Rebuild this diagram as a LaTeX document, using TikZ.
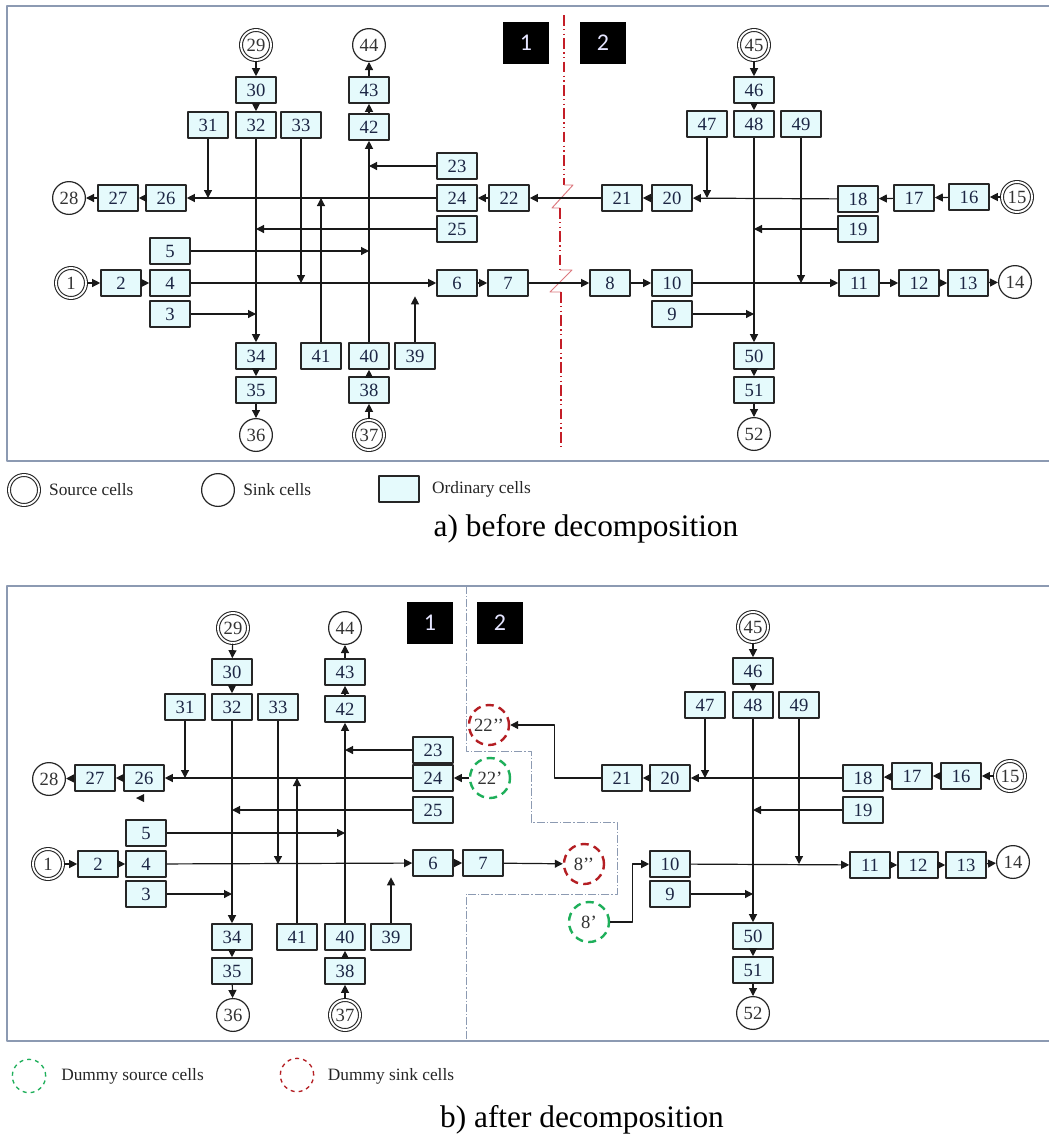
\documentclass[tikz,border=0pt]{standalone}
\usepackage{fontspec}
\setmainfont{Liberation Serif}
\newfontfamily\tagfont{Carlito}
\usetikzlibrary{arrows.meta}
\usetikzlibrary{positioning}
\definecolor{cellfill}{RGB}{229,250,252}
\definecolor{cellink}{RGB}{28,38,68}
\definecolor{framegray}{RGB}{140,154,178}
\definecolor{cutred}{RGB}{196,30,40}
\definecolor{dsrcgreen}{RGB}{30,175,90}
\definecolor{dsinkred}{RGB}{180,30,35}

\begin{document}
\begin{tikzpicture}[x=0.75pt, y=-0.75pt, line join=round,
    cell/.style = {draw=black!85, line width=1.2pt, fill=cellfill, minimum width=30pt, minimum height=19.5pt, inner sep=0pt, text=cellink, font=\fontsize{14}{16}\selectfont},
    sink/.style = {circle, draw=black!85, line width=0.9pt, minimum size=24.6pt, inner sep=0pt, text=black!80, font=\fontsize{14}{16}\selectfont},
    src/.style = {sink, double, double distance=1.4pt, line width=0.8pt, minimum size=22.5pt},
    dsrc/.style = {circle, draw=dsrcgreen, line width=1.8pt, dash pattern=on 6pt off 4pt, minimum size=30pt, inner sep=0pt, text=black!80, font=\fontsize{14}{16}\selectfont},
    dsink/.style = {dsrc, draw=dsinkred},
    tag/.style = {fill=black, text=white!90!blue, minimum width=34.5pt, minimum height=31.5pt, inner sep=0pt, font=\tagfont\fontsize{18}{20}\selectfont},
    arr/.style = {-{Triangle[length=6pt,width=6pt]}, line width=0.9pt, black!90},
    legend/.style = {font=\fontsize{13}{15}\selectfont, text=black!85, inner sep=0pt},
    caption/.style = {font=\fontsize{23.5}{26}\selectfont, anchor=base}]
\useasboundingbox (0,0) rectangle (1049,1136);
\fill[white] (0,0) rectangle (1049,1136);

% a) before decomposition
\draw[framegray, line width=1.1pt] (1050,6) -- (7,6) -- (7,461) -- (1050,461);
\node[tag] (a1tag) at (526,43) {1};
\node[tag] (a2tag) at (603,43) {2};
\draw[cutred, line width=0.9pt, dash pattern=on 8pt off 2.5pt on 1pt off 2.5pt on 1pt off 2.5pt] (564,15) -- (564,185);
\draw[cutred!60, line width=0.7pt] (564,185) -- (573,185) -- (552,208) -- (560,208);
\draw[cutred, line width=0.9pt, dash pattern=on 8pt off 2.5pt on 1pt off 2.5pt on 1pt off 2.5pt] (560,208) -- (560,270);
\draw[cutred!60, line width=0.7pt] (560,270) -- (572,270) -- (550,292) -- (561,292);
\draw[cutred, line width=0.9pt, dash pattern=on 8pt off 2.5pt on 1pt off 2.5pt on 1pt off 2.5pt] (561,292) -- (561,450);

\node[src] (a29) at (256,45) {29};
\node[sink] (a44) at (369,45) {44};
\node[src] (a45) at (754,45) {45};
\node[cell] (a30) at (256,90) {30};
\node[cell] (a43) at (369,90) {43};
\node[cell] (a46) at (754,90) {46};
\node[cell] (a31) at (208,125) {31};
\node[cell] (a32) at (256,125) {32};
\node[cell] (a33) at (301,125) {33};
\node[cell] (a42) at (369,127) {42};
\node[cell] (a47) at (707,124) {47};
\node[cell] (a48) at (754,124) {48};
\node[cell] (a49) at (801,124) {49};
\node[cell] (a23) at (457,166) {23};
\node[sink] (a28) at (69,198) {28};
\node[cell] (a27) at (118,198) {27};
\node[cell] (a26) at (166,198) {26};
\node[cell] (a24) at (457,198) {24};
\node[cell] (a22) at (509,198) {22};
\node[cell] (a21) at (622,198) {21};
\node[cell] (a20) at (672,198) {20};
\node[cell] (a18) at (858,199) {18};
\node[cell] (a17) at (914,198) {17};
\node[cell] (a16) at (969,197) {16};
\node[src] (a15) at (1017,197) {15};
\node[cell] (a25) at (457,229) {25};
\node[cell] (a19) at (858,229) {19};
\node[cell] (a5) at (170,251) {5};
\node[src] (a1) at (71,283) {1};
\node[cell] (a2) at (121,283) {2};
\node[cell] (a4) at (170,283) {4};
\node[cell] (a6) at (457,283) {6};
\node[cell] (a7) at (508,283) {7};
\node[cell] (a8) at (610,283) {8};
\node[cell] (a10) at (672,283) {10};
\node[cell] (a11) at (859,283) {11};
\node[cell] (a12) at (919,283) {12};
\node[cell] (a13) at (968,283) {13};
\node[sink] (a14) at (1015,282) {14};
\node[cell] (a3) at (170,314) {3};
\node[cell] (a9) at (672,314) {9};
\node[cell] (a34) at (256,356) {34};
\node[cell] (a41) at (321,356) {41};
\node[cell] (a40) at (369,356) {40};
\node[cell] (a39) at (415,356) {39};
\node[cell] (a50) at (754,356) {50};
\node[cell] (a35) at (256,390) {35};
\node[cell] (a38) at (369,390) {38};
\node[cell] (a51) at (754,390) {51};
\node[sink] (a36) at (256,435) {36};
\node[src] (a37) at (369,435) {37};
\node[sink] (a52) at (754,434) {52};

\draw[arr] (a29) -- (a30);
\draw[arr] (a30) -- (a32);
\draw[arr] (a32) -- (a34);
\draw[arr] (a34) -- (a35);
\draw[arr] (a35) -- (a36);
\draw[arr] (a3) -- (a3 -| a32);
\draw[arr] (a25) -- (a25 -| a32);
\draw[arr] (a31) -- (a31 |- a24);
\draw[arr] (a33) -- (a33 |- a4);
\draw[arr] (a37) -- (a38);
\draw[arr] (a38) -- (a40);
\draw[arr] (a40) -- (a42);
\draw[arr] (a42) -- (a43);
\draw[arr] (a43) -- (a44);
\draw[arr] (a23) -- (a23 -| a42);
\draw[arr] (a5) -- (a5 -| a40);
\draw[arr] (a41) -- (a41 |- a24);
\draw[arr, shorten >=10pt] (a39) -- (a39 |- a4);
\draw[arr] (a15) -- (a16);
\draw[arr] (a16) -- (a17);
\draw[arr] (a17) -- (a18);
\draw[arr] (a18) -- (a20);
\draw[arr] (a20) -- (a21);
\draw[arr] (a21) -- (a22);
\draw[arr] (a22) -- (a24);
\draw[arr] (a24) -- (a26);
\draw[arr] (a26) -- (a27);
\draw[arr] (a27) -- (a28);
\draw[arr] (a47) -- (a47 |- a20);
\draw[arr] (a19) -- (a19 -| a48);
\draw[arr] (a45) -- (a46);
\draw[arr] (a46) -- (a48);
\draw[arr] (a48) -- (a50);
\draw[arr] (a50) -- (a51);
\draw[arr] (a51) -- (a52);
\draw[arr] (a49) -- (a49 |- a10);
\draw[arr] (a9) -- (a9 -| a48);
\draw[arr] (a1) -- (a2);
\draw[arr] (a2) -- (a4);
\draw[arr] (a4) -- (a6);
\draw[arr] (a6) -- (a7);
\draw[arr] (a7) -- (a8);
\draw[arr] (a8) -- (a10);
\draw[arr] (a10) -- (a11);
\draw[arr] (a11) -- (a12);
\draw[arr] (a12) -- (a13);
\draw[arr] (a13) -- (a14);

% legend a
\node[src] (lsrc) at (24,490) {};
\node[legend] (lsrctxt) [right=7pt of lsrc] {Source cells};
\node[sink] (lsink) at (218,490) {};
\node[legend] (lsinktxt) [right=6pt of lsink] {Sink cells};
\node[cell] (lcell) at (399,489) {};
\node[legend] (lcelltxt) [right=9pt of lcell] {Ordinary cells};
\node[caption] (capa) at (586,536) {a) before decomposition};

% b) after decomposition
\draw[framegray, line width=1.1pt] (1050,586) -- (7,586) -- (7,1041) -- (1050,1041);
\draw[framegray, line width=0.6pt, dash pattern=on 6pt off 1.5pt on 1pt off 1.5pt] (466,586) -- (466,751) -- (531,751) -- (531,822) -- (617,822) -- (617,894) -- (466,894) -- (466,1041);
\node[tag] (b1tag) at (430,623) {1};
\node[tag] (b2tag) at (500,623) {2};

\node[src] (b29) at (233,628) {29};
\node[sink] (b44) at (345,628) {44};
\node[src] (b45) at (753,627) {45};
\node[cell] (b30) at (232,672) {30};
\node[cell] (b43) at (345,672) {43};
\node[cell] (b46) at (753,671) {46};
\node[cell] (b31) at (185,707) {31};
\node[cell] (b32) at (232,707) {32};
\node[cell] (b33) at (278,707) {33};
\node[cell] (b42) at (345,709) {42};
\node[cell] (b47) at (705,705) {47};
\node[cell] (b48) at (753,705) {48};
\node[cell] (b49) at (799,705) {49};
\node[dsink] (b22snk) at (489,725) {22’’};
\node[cell] (b23) at (433,750) {23};
\node[sink] (b28) at (49,779) {28};
\node[cell] (b27) at (95,778) {27};
\node[cell] (b26) at (144,778) {26};
\node[cell] (b24) at (433,778) {24};
\node[dsrc] (b22src) at (490,778) {22’};
\node[cell] (b21) at (622,778) {21};
\node[cell] (b20) at (670,778) {20};
\node[cell] (b18) at (863,778) {18};
\node[cell] (b17) at (912,776) {17};
\node[cell] (b16) at (961,776) {16};
\node[src] (b15) at (1010,776) {15};
\node[cell] (b25) at (433,810) {25};
\node[cell] (b19) at (863,810) {19};
\node[cell] (b5) at (146,833) {5};
\node[src] (b1) at (48,864) {1};
\node[cell] (b2) at (98,864) {2};
\node[cell] (b4) at (146,864) {4};
\node[cell] (b6) at (433,863) {6};
\node[cell] (b7) at (483,863) {7};
\node[dsink] (b8snk) at (584,864) {8’’};
\node[cell] (b10) at (670,864) {10};
\node[cell] (b11) at (870,865) {11};
\node[cell] (b12) at (918,865) {12};
\node[cell] (b13) at (966,865) {13};
\node[sink] (b14) at (1013,862) {14};
\node[cell] (b3) at (146,894) {3};
\node[cell] (b9) at (670,894) {9};
\node[dsrc] (b8src) at (589,922) {8’};
\node[cell] (b34) at (232,937) {34};
\node[cell] (b41) at (297,937) {41};
\node[cell] (b40) at (345,937) {40};
\node[cell] (b39) at (391,937) {39};
\node[cell] (b50) at (753,936) {50};
\node[cell] (b35) at (232,971) {35};
\node[cell] (b38) at (345,971) {38};
\node[cell] (b51) at (753,970) {51};
\node[sink] (b36) at (233,1015) {36};
\node[src] (b37) at (345,1015) {37};
\node[sink] (b52) at (753,1013) {52};

\draw[arr] (b29) -- (b30);
\draw[arr] (b30) -- (b32);
\draw[arr] (b32) -- (b34);
\draw[arr] (b34) -- (b35);
\draw[arr] (b35) -- (b36);
\draw[arr] (b3) -- (b3 -| b32);
\draw[arr] (b25) -- (b25 -| b32);
\draw[arr] (b31) -- (b31 |- b24);
\draw[arr] (b33) -- (b33 |- b4);
\draw[arr] (b37) -- (b38);
\draw[arr] (b38) -- (b40);
\draw[arr] (b40) -- (b42);
\draw[arr] (b42) -- (b43);
\draw[arr] (b43) -- (b44);
\draw[arr] (b23) -- (b23 -| b42);
\draw[arr] (b5) -- (b5 -| b40);
\draw[arr] (b41) -- (b41 |- b24);
\draw[arr, shorten >=10pt] (b39) -- (b39 |- b4);
\draw[arr] (b15) -- (b16);
\draw[arr] (b16) -- (b17);
\draw[arr] (b17) -- (b18);
\draw[arr] (b18) -- (b20);
\draw[arr] (b20) -- (b21);
\draw[arr] (b21.west) -- ++(-47,0) |- (b22snk.east);
\draw[arr] (b22src) -- (b24);
\draw[arr] (b24) -- (b26);
\draw[arr] (b26) -- (b27);
\draw[arr] (b27) -- (b28);
\fill[black!90] (136,798) -- (144,794) -- (144,802) -- cycle;
\draw[arr] (b47) -- (b47 |- b20);
\draw[arr] (b19) -- (b19 -| b48);
\draw[arr] (b45) -- (b46);
\draw[arr] (b46) -- (b48);
\draw[arr] (b48) -- (b50);
\draw[arr] (b50) -- (b51);
\draw[arr] (b51) -- (b52);
\draw[arr] (b49) -- (b49 |- b10);
\draw[arr] (b9) -- (b9 -| b48);
\draw[arr] (b1) -- (b2);
\draw[arr] (b2) -- (b4);
\draw[arr] (b4) -- (b6);
\draw[arr] (b6) -- (b7);
\draw[arr] (b7) -- (b8snk);
\draw[arr] (b8src.east) -- ++(22,0) |- (b10.west);
\draw[arr] (b10) -- (b11);
\draw[arr] (b11) -- (b12);
\draw[arr] (b12) -- (b13);
\draw[arr] (b13) -- (b14);

% legend b
\node[dsrc, line width=1pt, dash pattern=on 3pt off 3pt, minimum size=25pt] (ldsrc) at (29,1076) {};
\node[legend] (ldsrctxt) [right=11pt of ldsrc] {Dummy source cells};
\node[dsink, line width=1pt, dash pattern=on 3pt off 3pt, minimum size=25pt] (ldsink) at (297,1075) {};
\node[legend, yshift=-1pt] (ldsinktxt) [right=10pt of ldsink] {Dummy sink cells};
\node[caption] (capb) at (582,1127) {b) after decomposition};
\end{tikzpicture}
\end{document}
